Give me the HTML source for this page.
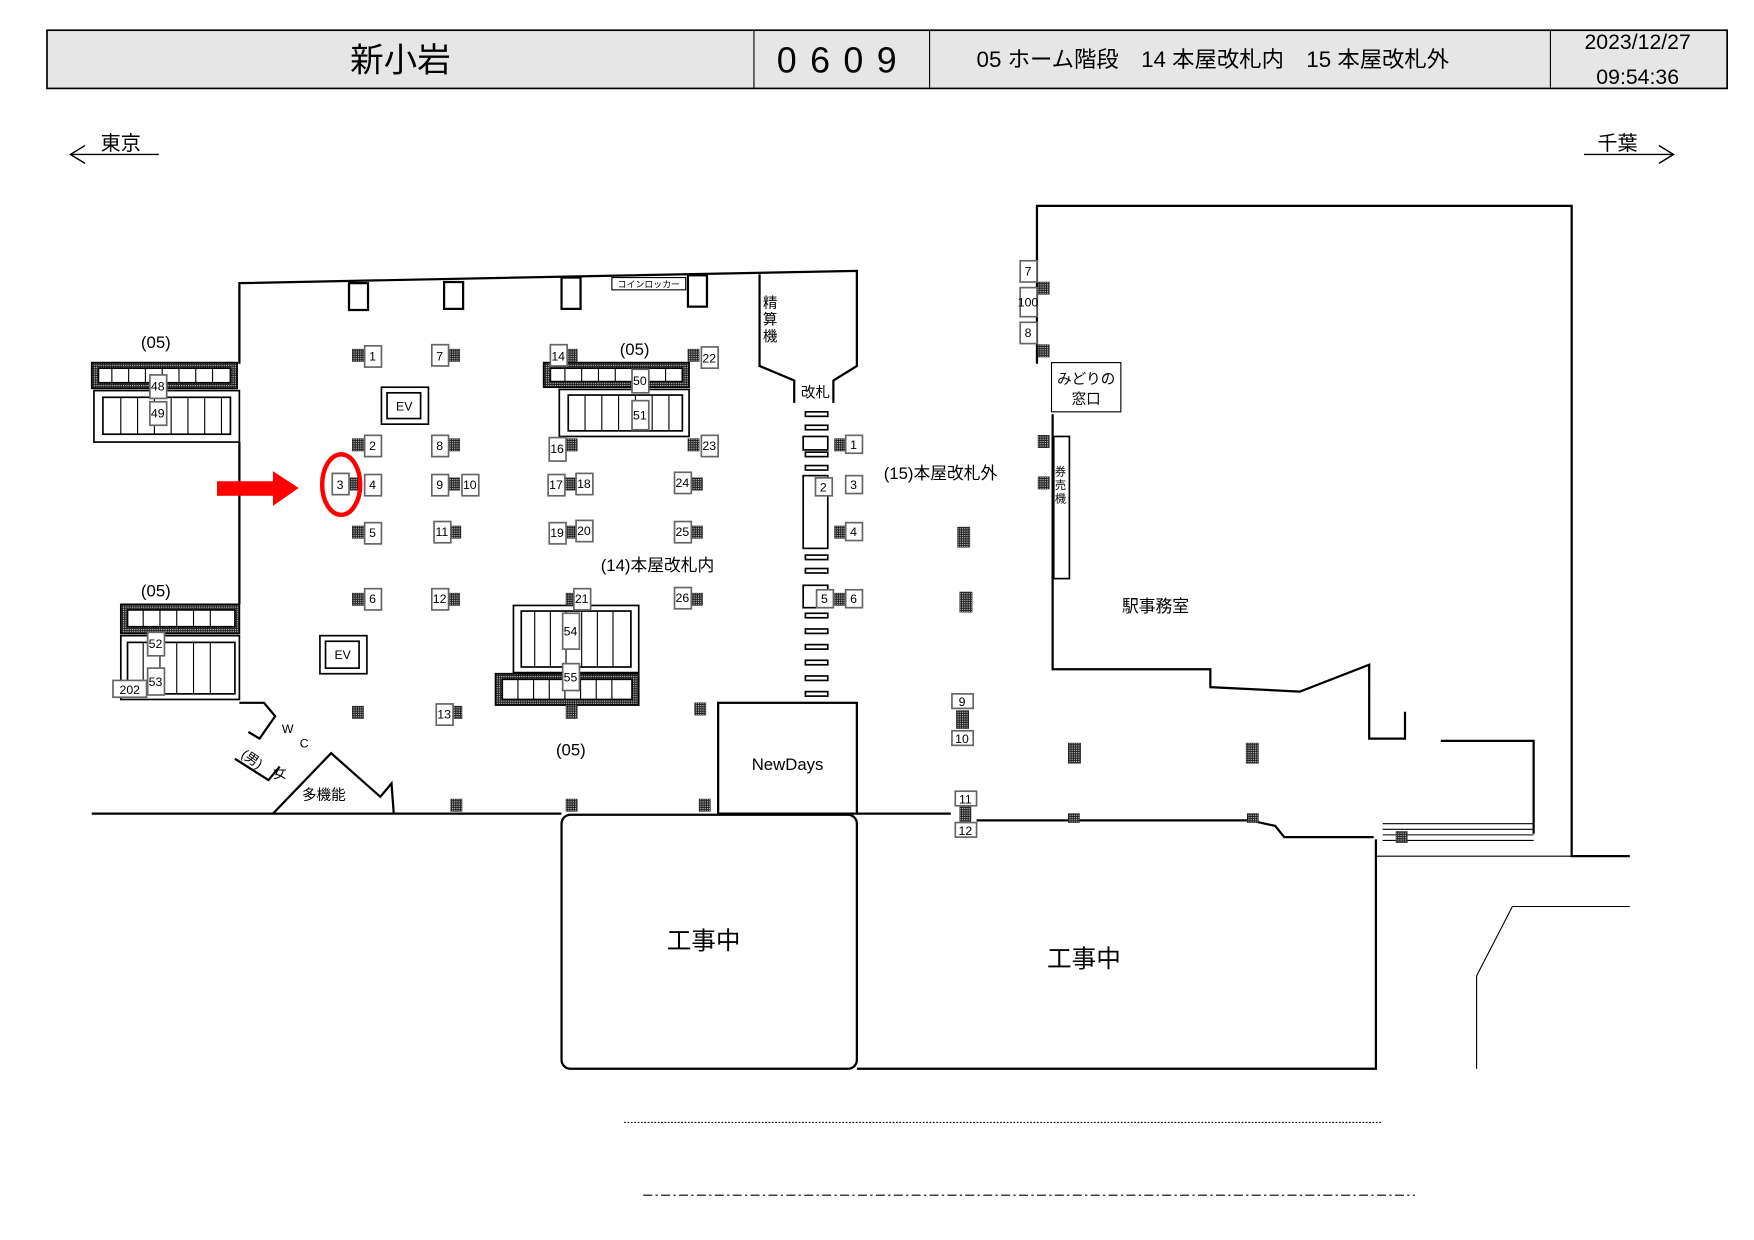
<!DOCTYPE html>
<html><head><meta charset="utf-8"><style>
html,body{margin:0;padding:0;background:#fff}
svg{display:block}
text{font-family:"Liberation Sans","Noto Sans CJK JP",sans-serif;fill:#000}
</style></head><body>
<svg width="1754" height="1240" viewBox="0 0 1568 1108" preserveAspectRatio="none" xmlns="http://www.w3.org/2000/svg">
<defs>
<pattern id="h" width="2" height="2" patternUnits="userSpaceOnUse"><rect width="2" height="2" fill="#222"/><rect width="1" height="1" fill="#ccc"/></pattern>
</defs>
<rect x="42" y="27" width="1502" height="52" fill="#e6e6e6" stroke="#000" stroke-width="1.5"/>
<line x1="674" y1="27" x2="674" y2="79" stroke="#000"/>
<line x1="831" y1="27" x2="831" y2="79" stroke="#000"/>
<line x1="1386" y1="27" x2="1386" y2="79" stroke="#000"/>
<text x="358" y="64" font-size="30" text-anchor="middle">新小岩</text>
<text x="754" y="65" font-size="32" text-anchor="middle" letter-spacing="12">0609</text>
<text x="873" y="60" font-size="20">05 ホーム階段　14 本屋改札内　15 本屋改札外</text>
<text x="1464" y="44" font-size="19" text-anchor="middle">2023/12/27</text>
<text x="1464" y="75" font-size="19" text-anchor="middle">09:54:36</text>
<g stroke="#000" fill="none" stroke-width="1.3">
<line x1="63" y1="138" x2="142" y2="138"/><polyline points="76,130 63,138 76,146"/>
<line x1="1416" y1="138" x2="1496" y2="138"/><polyline points="1483,130 1496,138 1483,146"/>
</g>
<text x="90" y="134" font-size="18">東京</text>
<text x="1428" y="134" font-size="18">千葉</text>
<g stroke="#000" fill="none" stroke-width="2">
<polyline points="214,325 214,253 766,242 766,327 745,340 745,360"/>
<polyline points="679,245 679,327 710,340 710,360"/>
<line x1="214" y1="395" x2="214" y2="540"/>
<line x1="82" y1="727" x2="502" y2="727"/>
<line x1="766" y1="727" x2="850" y2="727"/>
<polyline points="873,733 1117,733 1140,738 1148,748 1228,748"/>
<rect x="642" y="628" width="124" height="99"/>
<polyline points="927,325 927,184 1405,184 1405,765 1457,765"/>
<polyline points="941,370 941,598 1082,598 1082,614 1162,618 1224,594 1224,660 1256,660 1256,636"/>
<polyline points="1288,662 1371,662 1371,745"/>
<rect x="502" y="728" width="264" height="227" rx="8"/>
<polyline points="766,955 1230,955 1230,750"/>
<polyline points="1457,810 1352,810 1320,872 1320,955" stroke-width="1"/>
<line x1="1230" y1="765" x2="1405" y2="765" stroke-width="1"/>
<polyline points="214,628 236,628 246,640 232,660 222,654"/>
<polyline points="210,678 240,697 250,685"/>
<polyline points="244,727 296,673 340,712 350,700 352,727"/>
</g>
<g stroke="#000" stroke-width="1"><line x1="1236" y1="736" x2="1371" y2="736"/><line x1="1236" y1="741" x2="1371" y2="741"/><line x1="1236" y1="746" x2="1371" y2="746"/><line x1="1236" y1="751" x2="1371" y2="751"/></g>
<g fill="#fff" stroke="#000" stroke-width="2">
<rect x="312" y="253" width="17" height="24"/><rect x="397" y="252" width="17" height="24"/><rect x="502" y="248" width="17" height="28"/><rect x="615" y="246" width="17" height="28"/>
</g>
<rect x="547" y="248" width="66" height="11" fill="#fff" stroke="#000"/>
<text x="580" y="257" font-size="8" text-anchor="middle">コインロッカー</text>
<text x="682" y="275" font-size="13">精</text><text x="682" y="290" font-size="13">算</text><text x="682" y="305" font-size="13">機</text>
<text x="716" y="355" font-size="13">改札</text>
<g stroke="#000" fill="none" stroke-width="1.5">
<rect x="82" y="324" width="130" height="23" fill="url(#h)"/><rect x="88" y="329" width="118" height="13" fill="#fff"/>
<rect x="84" y="349" width="130" height="46"/><rect x="92" y="355" width="114" height="33"/>
<rect x="108" y="540" width="106" height="26" fill="url(#h)"/><rect x="114" y="545" width="96" height="15" fill="#fff"/>
<rect x="108" y="568" width="106" height="57"/><rect x="114" y="574" width="96" height="46"/>
<rect x="486" y="324" width="130" height="22" fill="url(#h)"/><rect x="492" y="329" width="118" height="12" fill="#fff"/>
<rect x="500" y="348" width="116" height="42"/><rect x="508" y="353" width="102" height="32"/>
<rect x="459" y="541" width="112" height="60"/><rect x="466" y="546" width="98" height="50"/>
<rect x="443" y="602" width="128" height="28" fill="url(#h)"/><rect x="449" y="607" width="116" height="18" fill="#fff"/>
<rect x="942" y="390" width="14" height="127"/>
</g>
<g stroke="#000" stroke-width="1">
<path d="M100 329v13M115 329v13M130 329v13M145 329v13M160 329v13M175 329v13M190 329v13M108 355v33M123 355v33M138 355v33M153 355v33M168 355v33M183 355v33M198 355v33"/>
<path d="M128 545v15M143 545v15M158 545v15M173 545v15M188 545v15M128 574v46M143 574v46M158 574v46M173 574v46M188 574v46"/>
<path d="M505 329v12M520 329v12M535 329v12M550 329v12M565 329v12M580 329v12M595 329v12M523 353v32M538 353v32M553 353v32M568 353v32M583 353v32M598 353v32"/>
<path d="M478 546v50M492 546v50M506 546v50M520 546v50M534 546v50M548 546v50M463 607v18M477 607v18M491 607v18M505 607v18M519 607v18M533 607v18M547 607v18"/>
</g>
<g font-size="15"><text x="126" y="311">(05)</text><text x="126" y="533">(05)</text><text x="554" y="317">(05)</text><text x="497" y="675">(05)</text></g>
<g stroke="#000" fill="#fff" stroke-width="1.5"><rect x="341" y="346" width="42" height="33"/><rect x="346" y="351" width="30" height="23"/><rect x="286" y="568" width="42" height="34"/><rect x="291" y="573" width="30" height="24"/></g>
<text x="354" y="367" font-size="11">EV</text><text x="299" y="589" font-size="11">EV</text>
<g fill="url(#h)" stroke="#222" stroke-width="0.5">
<rect x="315" y="312" width="10" height="11"/><rect x="401" y="312" width="10" height="11"/><rect x="506" y="312" width="10" height="11"/><rect x="615" y="312" width="10" height="11"/>
<rect x="315" y="392" width="10" height="11"/><rect x="401" y="392" width="10" height="11"/><rect x="506" y="392" width="10" height="11"/><rect x="615" y="392" width="10" height="11"/>
<rect x="313" y="427" width="10" height="11"/><rect x="401" y="427" width="10" height="11"/><rect x="505" y="427" width="10" height="11"/><rect x="618" y="427" width="10" height="11"/>
<rect x="315" y="470" width="10" height="11"/><rect x="402" y="470" width="10" height="11"/><rect x="505" y="470" width="10" height="11"/><rect x="618" y="470" width="10" height="11"/>
<rect x="315" y="530" width="10" height="11"/><rect x="401" y="530" width="10" height="11"/><rect x="506" y="530" width="10" height="11"/><rect x="618" y="530" width="10" height="11"/>
<rect x="315" y="631" width="10" height="11"/><rect x="403" y="631" width="10" height="11"/><rect x="506" y="630" width="10" height="12"/><rect x="621" y="628" width="10" height="11"/>
<rect x="403" y="714" width="10" height="11"/><rect x="506" y="714" width="10" height="11"/><rect x="625" y="714" width="10" height="11"/>
<rect x="746" y="392" width="10" height="11"/><rect x="746" y="470" width="10" height="11"/><rect x="746" y="530" width="10" height="11"/>
<rect x="856" y="471" width="11" height="18"/><rect x="858" y="529" width="11" height="18"/><rect x="855" y="635" width="11" height="16"/><rect x="858" y="720" width="10" height="14"/>
<rect x="955" y="664" width="11" height="18"/><rect x="1114" y="664" width="11" height="18"/><rect x="955" y="727" width="10" height="8"/><rect x="1115" y="727" width="10" height="8"/><rect x="1248" y="743" width="10" height="10"/>
<rect x="928" y="252" width="10" height="11"/><rect x="928" y="308" width="10" height="11"/><rect x="928" y="389" width="10" height="11"/><rect x="928" y="426" width="10" height="11"/>
</g>
<g fill="#fff" stroke="#000" stroke-width="1.5">
<rect x="720" y="368" width="20" height="4"/><rect x="720" y="380" width="20" height="4"/><rect x="720" y="404" width="20" height="4"/><rect x="720" y="416" width="20" height="4"/>
<rect x="720" y="496" width="20" height="4"/><rect x="720" y="508" width="20" height="4"/>
<rect x="720" y="548" width="20" height="4"/><rect x="720" y="562" width="20" height="4"/><rect x="720" y="576" width="20" height="4"/><rect x="720" y="590" width="20" height="4"/><rect x="720" y="604" width="20" height="4"/><rect x="720" y="618" width="20" height="4"/>
<rect x="718" y="390" width="22" height="12"/><rect x="718" y="425" width="22" height="65"/><rect x="718" y="523" width="22" height="20"/>
</g>
<g fill="#fff" stroke="#666" stroke-width="1.5">
<rect x="326" y="309" width="15" height="19"/><rect x="386" y="308" width="15" height="19"/><rect x="492" y="308" width="15" height="19"/><rect x="627" y="310" width="15" height="19"/>
<rect x="326" y="389" width="15" height="19"/><rect x="386" y="389" width="15" height="19"/><rect x="491" y="391" width="15" height="21"/><rect x="627" y="389" width="15" height="19"/>
<rect x="297" y="423" width="15" height="19"/><rect x="326" y="424" width="15" height="19"/><rect x="386" y="424" width="15" height="19"/><rect x="413" y="424" width="15" height="19"/><rect x="490" y="424" width="15" height="19"/><rect x="515" y="423" width="15" height="19"/><rect x="603" y="422" width="15" height="19"/>
<rect x="326" y="467" width="15" height="19"/><rect x="388" y="466" width="15" height="19"/><rect x="491" y="467" width="15" height="19"/><rect x="515" y="465" width="15" height="19"/><rect x="603" y="466" width="15" height="19"/>
<rect x="326" y="526" width="15" height="19"/><rect x="386" y="526" width="15" height="19"/><rect x="513" y="526" width="15" height="19"/><rect x="603" y="525" width="15" height="19"/>
<rect x="390" y="629" width="15" height="19"/>
<rect x="134" y="335" width="15" height="21"/><rect x="134" y="359" width="15" height="21"/><rect x="132" y="565" width="15" height="21"/><rect x="132" y="597" width="15" height="24"/><rect x="101" y="608" width="30" height="15"/>
<rect x="565" y="330" width="15" height="21"/><rect x="565" y="358" width="15" height="26"/><rect x="503" y="548" width="15" height="32"/><rect x="503" y="593" width="15" height="24"/>
<rect x="756" y="389" width="15" height="16"/><rect x="729" y="427" width="15" height="16"/><rect x="756" y="425" width="15" height="16"/><rect x="756" y="467" width="15" height="16"/><rect x="730" y="527" width="15" height="16"/><rect x="756" y="527" width="15" height="16"/>
<rect x="851" y="620" width="19" height="13"/><rect x="851" y="653" width="19" height="13"/><rect x="854" y="707" width="19" height="13"/><rect x="854" y="735" width="19" height="13"/>
<rect x="912" y="233" width="15" height="19"/><rect x="912" y="257" width="15" height="26"/><rect x="912" y="288" width="15" height="19"/>
</g>
<g font-size="11" text-anchor="middle">
<text x="333" y="322">1</text><text x="393" y="322">7</text><text x="499" y="322">14</text><text x="634" y="324">22</text>
<text x="333" y="402">2</text><text x="393" y="402">8</text><text x="498" y="405">16</text><text x="634" y="402">23</text>
<text x="304" y="437">3</text><text x="333" y="437">4</text><text x="393" y="437">9</text><text x="420" y="437">10</text><text x="497" y="437">17</text><text x="522" y="436">18</text><text x="610" y="435">24</text>
<text x="333" y="480">5</text><text x="395" y="479">11</text><text x="498" y="480">19</text><text x="522" y="478">20</text><text x="610" y="479">25</text>
<text x="333" y="539">6</text><text x="393" y="539">12</text><text x="520" y="539">21</text><text x="610" y="538">26</text>
<text x="397" y="642">13</text>
<text x="141" y="349">48</text><text x="141" y="373">49</text><text x="139" y="579">52</text><text x="139" y="613">53</text><text x="116" y="620">202</text>
<text x="572" y="344">50</text><text x="572" y="375">51</text><text x="510" y="568">54</text><text x="510" y="609">55</text>
<text x="763" y="401">1</text><text x="736" y="439">2</text><text x="763" y="437">3</text><text x="763" y="479">4</text><text x="737" y="539">5</text><text x="763" y="539">6</text>
<text x="860" y="631">9</text><text x="860" y="664">10</text><text x="863" y="718">11</text><text x="863" y="746">12</text>
<text x="919" y="246">7</text><text x="919" y="274">100</text><text x="919" y="301">8</text>
</g>
<rect x="940" y="324" width="62" height="44" fill="#fff" stroke="#000"/>
<text x="971" y="343" font-size="13" text-anchor="middle">みどりの</text><text x="971" y="361" font-size="13" text-anchor="middle">窓口</text>
<text x="943" y="425" font-size="10">券</text><text x="943" y="437" font-size="10">売</text><text x="943" y="449" font-size="10">機</text>
<text x="1003" y="547" font-size="15">駅事務室</text>
<text x="790" y="428" font-size="15">(15)本屋改札外</text>
<text x="537" y="510" font-size="15">(14)本屋改札内</text>
<text x="672" y="688" font-size="15">NewDays</text>
<text x="270" y="715" font-size="13">多機能</text>
<text x="252" y="655" font-size="11">W</text><text x="268" y="668" font-size="11">C</text>
<text x="216" y="680" font-size="12" transform="rotate(35 222 676)">(男)</text><text x="244" y="695" font-size="12">女</text>
<text x="596" y="848" font-size="22">工事中</text>
<text x="936" y="864" font-size="22">工事中</text>
<line x1="558" y1="1003" x2="1236" y2="1003" stroke="#000" stroke-dasharray="1.5,1.5"/>
<line x1="575" y1="1068" x2="1265" y2="1068" stroke="#000" stroke-dasharray="8,3,2,3"/>
<rect x="194" y="430" width="50" height="13" fill="#f00"/><polygon points="244,421 267,436 244,452" fill="#f00"/>
<ellipse cx="305" cy="433" rx="17" ry="27" fill="none" stroke="#f00" stroke-width="4"/>
</svg>
</body></html>
